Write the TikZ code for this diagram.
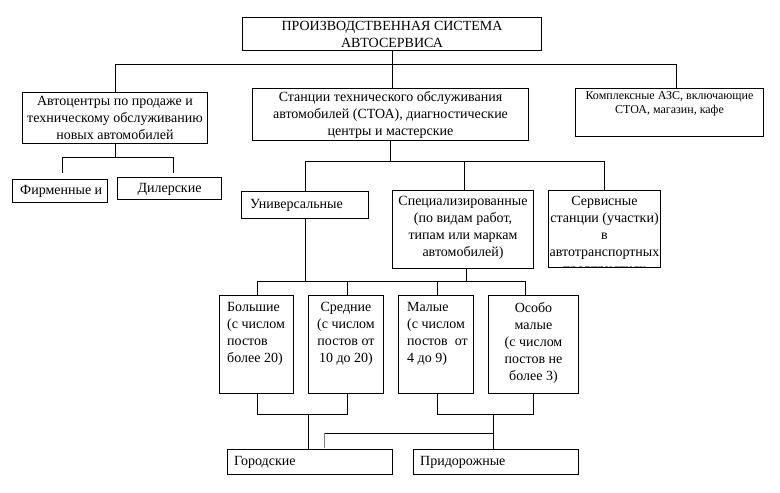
\documentclass[tikz,border=0pt]{standalone}
\usepackage{fontspec}
\setmainfont{Liberation Serif}
\begin{document}
\begin{tikzpicture}[x=1pt,y=-1pt,
  box/.style={draw, line width=1pt, inner sep=0pt, anchor=north west},
  txt/.style={inner sep=0pt, font=\fontsize{14}{17}\selectfont},
  small/.style={inner sep=0pt, font=\fontsize{12}{14.5}\selectfont},
  conn/.style={line width=1pt}]
\useasboundingbox (0,0) rectangle (780,493);
\fill[white] (0,0) rectangle (780,493);
% boxes
\node[box, minimum width=299pt, minimum height=33pt] (top) at (242,17) {};
\node[box, minimum width=185pt, minimum height=51pt] (auto) at (22,92) {};
\node[box, minimum width=276pt, minimum height=52pt] (stations) at (252,88) {};
\node[box, minimum width=188pt, minimum height=48pt] (complex) at (575,88) {};
\node[box, minimum width=95pt, minimum height=23pt] (firm) at (12,179) {};
\node[box, minimum width=104pt, minimum height=22pt] (dealer) at (117,177) {};
\node[box, minimum width=127pt, minimum height=27pt] (univ) at (241,191) {};
\node[box, minimum width=141pt, minimum height=78pt] (spec) at (392,190) {};
\node[box, minimum width=112pt, minimum height=77pt] (serv) at (548,190) {};
\node[box, minimum width=74pt, minimum height=98pt] (big) at (219,295) {};
\node[box, minimum width=75pt, minimum height=98pt] (mid) at (308,295) {};
\node[box, minimum width=75pt, minimum height=98pt] (smallb) at (398,295) {};
\node[box, minimum width=90pt, minimum height=98pt] (vsmall) at (488,295) {};
\node[box, minimum width=165pt, minimum height=25pt] (city) at (227,449) {};
\node[box, minimum width=165pt, minimum height=25pt] (road) at (413,449) {};
% texts
\node[txt, align=center] (topT) at (top.center) {ПРОИЗВОДСТВЕННАЯ СИСТЕМА\\АВТОСЕРВИСА};
\node[txt, align=center] (autoT) at (auto.center) {Автоцентры по продаже и\\техническому обслуживанию\\новых автомобилей};
\node[txt, align=center] (stationsT) at (stations.center) {Станции технического обслуживания\\автомобилей (СТОА), диагностические\\центры и мастерские};
\node[small, align=center, anchor=north] (complexT) at ([yshift=-3pt]complex.north) {Комплексные АЗС, включающие\\СТОА, магазин, кафе};
\node[txt, anchor=west] (firmT) at ([xshift=8pt]firm.west) {Фирменные и};
\node[txt] (dealerT) at ([yshift=-1pt]dealer.center) {Дилерские};
\node[txt, anchor=west] (univT) at ([xshift=9pt]univ.west) {Универсальные};
\node[txt, align=center, anchor=north] (specT) at ([yshift=-6pt]spec.north) {Специализированные\\(по видам работ,\\типам или маркам\\автомобилей)};
\begin{scope}
\clip (548,190) rectangle (660,267);
\node[txt, align=center, anchor=north] (servT) at ([yshift=-6pt]serv.north) {Сервисные\\станции (участки)\\в\\автотранспортных\\предприятиях};
\end{scope}
\node[txt, align=left, anchor=north west] (bigT) at ([xshift=8pt,yshift=-7pt]big.north west) {Большие\\(с числом\\постов\\более 20)};
\node[txt, align=center, anchor=north] (midT) at ([yshift=-7pt]mid.north) {Средние\\(с числом\\постов от\\10 до 20)};
\node[txt, align=left, anchor=north west] (smallT) at ([xshift=9pt,yshift=-7pt]smallb.north west) {Малые\\(с числом\\постов \ от\\4 до 9)};
\node[txt, align=center, anchor=north] (vsmallT) at ([yshift=-7pt]vsmall.north) {Особо\\малые\\(с числом\\постов не\\более 3)};
\node[txt, anchor=west] (cityT) at ([xshift=7pt]city.west) {Городские};
\node[txt, anchor=west] (roadT) at ([xshift=7pt]road.west) {Придорожные};
% connectors
\coordinate (h1L) at (115,64); \coordinate (h1R) at (676,64);
\draw[conn] (h1L) -- (h1R);
\draw[conn] (top.south) -- (top.south |- stations.north);
\draw[conn] (h1L) -- (h1L |- auto.north);
\draw[conn] (h1R) -- (h1R |- complex.north);
\coordinate (h2L) at (62,157); \coordinate (h2R) at (173,157);
\draw[conn] (auto.south) -- (auto.south |- h2L);
\draw[conn] (h2L) -- (h2R);
\draw[conn, shorten >=6pt] (h2L) -- (h2L |- firm.north);
\draw[conn, shorten >=4pt] (h2R) -- (h2R |- dealer.north);
\coordinate (h3L) at (305,161); \coordinate (h3M) at (464,161); \coordinate (h3R) at (604,161);
\draw[conn] (stations.south) -- (stations.south |- h3L);
\draw[conn] (h3L) -- (h3R);
\draw[conn] (h3L) -- (h3L |- univ.north);
\draw[conn] (h3M) -- (h3M |- spec.north);
\draw[conn] (h3R) -- (h3R |- serv.north);
\coordinate (h4L) at (257,281); \coordinate (h4a) at (347,281); \coordinate (h4b) at (437,281); \coordinate (h4R) at (525,281);
\coordinate (h4S) at (466,281);
\draw[conn] (univ.south) -- (univ.south |- h4L);
\draw[conn] (h4S |- spec.south) -- (h4S);
\draw[conn] (h4L) -- (h4R);
\draw[conn] (h4L) -- (h4L |- big.north);
\draw[conn] (h4a) -- (h4a |- mid.north);
\draw[conn] (h4b) -- (h4b |- smallb.north);
\draw[conn] (h4R) -- (h4R |- vsmall.north);
\coordinate (b1L) at (257,414); \coordinate (b1M) at (308,414); \coordinate (b1R) at (347,414);
\draw[conn] (b1L |- big.south) -- (b1L) -- (b1R) -- (b1R |- mid.south);
\draw[conn] (b1M) -- (b1M |- city.north);
\coordinate (b2L) at (437,414); \coordinate (b2M) at (493,414); \coordinate (b2R) at (533,414);
\draw[conn] (b2L |- smallb.south) -- (b2L) -- (b2R) -- (b2R |- vsmall.south);
\draw[conn] (b2M) -- (b2M |- road.north);
\coordinate (b3L) at (324,433); \coordinate (b3R) at (493,433);
\draw[conn] (b3L) -- (b3R);
\draw[conn, gray, shorten >=1pt] (b3L) -- (b3L |- city.north);
\end{tikzpicture}
\end{document}
